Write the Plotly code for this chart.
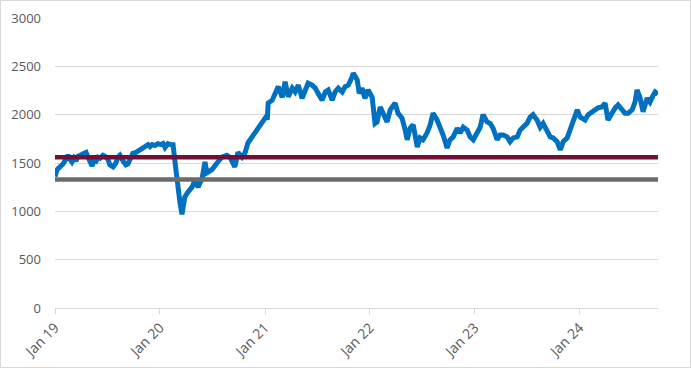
import plotly.graph_objects as go

dates = [
    "2019-01-01","2019-01-08","2019-01-18","2019-01-29","2019-02-08","2019-02-15","2019-02-22","2019-03-01",
    "2019-03-08","2019-03-15","2019-03-22","2019-03-29","2019-04-08","2019-04-19","2019-04-26","2019-05-03",
    "2019-05-10","2019-05-17","2019-05-24","2019-05-31","2019-06-07","2019-06-17","2019-06-24","2019-07-04",
    "2019-07-11","2019-07-22","2019-08-01","2019-08-08","2019-08-15","2019-08-26","2019-09-05","2019-09-12",
    "2019-09-22","2019-09-29","2019-10-10","2019-10-20","2019-10-31","2019-11-10","2019-11-21","2019-11-28",
    "2019-12-05","2019-12-15","2019-12-25",
    "2020-01-05","2020-01-12","2020-01-19","2020-01-29","2020-02-09","2020-02-16","2020-02-26","2020-03-04",
    "2020-03-11","2020-03-18","2020-03-28","2020-04-08","2020-04-22","2020-05-02","2020-05-13","2020-05-27",
    "2020-06-06","2020-06-13","2020-06-30","2020-07-18","2020-08-04","2020-08-21","2020-09-01","2020-09-18",
    "2020-09-29","2020-10-13","2020-10-23","2020-11-03","2020-11-17","2020-11-27","2020-12-15",
    "2021-01-04","2021-01-09","2021-01-12","2021-01-26","2021-02-05","2021-02-16","2021-03-02","2021-03-12",
    "2021-03-23","2021-04-06","2021-04-16","2021-04-27","2021-05-10","2021-05-21","2021-05-31","2021-06-14",
    "2021-06-25","2021-07-05","2021-07-19","2021-07-30","2021-08-09","2021-08-23","2021-09-02","2021-09-13",
    "2021-09-27","2021-10-07","2021-10-18","2021-10-31","2021-11-04","2021-11-18","2021-11-25","2021-12-05",
    "2021-12-15","2021-12-26",
    "2022-01-09","2022-01-19","2022-01-26","2022-02-06","2022-02-16","2022-03-02","2022-03-13","2022-03-30",
    "2022-04-09","2022-04-23","2022-05-04","2022-05-11","2022-05-21","2022-06-01","2022-06-15","2022-06-25",
    "2022-07-05","2022-07-19","2022-07-30","2022-08-09","2022-08-23","2022-09-03","2022-09-13","2022-09-27",
    "2022-10-07","2022-10-18","2022-11-01","2022-11-11","2022-11-22","2022-12-06","2022-12-16","2022-12-27",
    "2023-01-09","2023-01-20","2023-01-30","2023-02-13","2023-02-24","2023-03-06","2023-03-20","2023-03-30",
    "2023-04-10","2023-04-24","2023-05-04","2023-05-15","2023-05-29","2023-06-08","2023-06-18","2023-07-02",
    "2023-07-13","2023-07-23","2023-08-06","2023-08-17","2023-08-27","2023-09-10","2023-09-21","2023-10-01",
    "2023-10-15","2023-10-26","2023-11-05","2023-11-19","2023-11-29","2023-12-10","2023-12-24",
    "2024-01-03","2024-01-13","2024-01-20","2024-01-31","2024-02-13","2024-02-24","2024-03-05","2024-03-19",
    "2024-03-30","2024-04-09","2024-04-23","2024-05-04","2024-05-14","2024-05-28","2024-06-07","2024-06-18",
    "2024-07-02","2024-07-12","2024-07-19","2024-07-29","2024-08-09","2024-08-23","2024-09-02","2024-09-13",
    "2024-09-20","2024-09-30",
]

index_values = [
    1360,1430,1460,1490,1540,1580,1540,1510,
    1550,1520,1570,1580,1590,1610,1560,1500,
    1470,1530,1520,1560,1550,1580,1570,1540,
    1480,1460,1500,1560,1580,1520,1480,1490,
    1560,1600,1610,1630,1650,1660,1690,1670,
    1690,1680,1700,
    1690,1700,1660,1700,1690,1690,1430,1200,
    1090,970,1150,1200,1250,1320,1250,1340,
    1510,1400,1430,1500,1560,1580,1560,1460,
    1610,1560,1600,1710,1770,1820,1910,
    1975,1950,2120,2150,2235,2290,2180,2340,
    2185,2275,2235,2305,2170,2255,2325,2305,
    2275,2220,2150,2235,2255,2150,2235,2275,
    2235,2290,2305,2390,2430,2360,2220,2275,
    2170,2255,
    2180,1910,1925,2080,2015,1925,2050,2120,
    2015,1965,1840,1740,1860,1895,1665,1760,
    1740,1810,1895,2015,1945,1870,1790,1655,
    1740,1770,1860,1810,1870,1840,1770,1740,
    1820,1870,2000,1925,1910,1860,1740,1790,
    1790,1770,1720,1760,1770,1840,1870,1910,
    1975,2000,1945,1870,1910,1840,1770,1760,
    1720,1635,1720,1760,1840,1910,2050,
    1975,1950,1945,2000,2030,2050,2070,2080,
    2120,1945,2030,2070,2100,2050,2015,2015,
    2050,2130,2255,2180,2030,2170,2130,2200,
    2235,2210,
]

period = ["2019-01-01", "2024-09-30"]
upper_level = [1560, 1560]
lower_level = [1330, 1330]
y_ticks = [0, 500, 1000, 1500, 2000, 2500, 3000]

fig = go.Figure()
fig.add_trace(go.Scatter(x=dates, y=index_values, mode="lines",
                         line=dict(color="#0070C0", width=5), showlegend=False))
fig.add_trace(go.Scatter(x=period, y=upper_level, mode="lines",
                         line=dict(color="#720F37", width=4.5), showlegend=False))
fig.add_trace(go.Scatter(x=period, y=lower_level, mode="lines",
                         line=dict(color="#6B6B6B", width=4.5), showlegend=False))

fig.update_layout(
    width=691, height=368,
    margin=dict(l=55, r=33, t=18, b=60, autoexpand=False),
    paper_bgcolor="white", plot_bgcolor="white",
    font=dict(family="Open Sans, sans-serif", size=13, color="#595959"),
    shapes=[dict(type="rect", xref="paper", yref="paper",
                 x0=-0.0904, x1=1.0539, y0=-0.2052, y1=1.0603,
                 line=dict(color="#D9D9D9", width=1), fillcolor="rgba(0,0,0,0)",
                 layer="below")],
)
fig.update_xaxes(
    range=period, type="date", automargin=False,
    tick0="2019-01-01", dtick="M12", tickformat="%b %y", tickangle=-45,
    showgrid=False, showline=True, linecolor="#D9D9D9", linewidth=1,
    ticks="outside", ticklen=5, tickcolor="#D9D9D9",
    tickfont=dict(size=14, color="#595959"),
)
fig.update_yaxes(
    range=[0, 3000], tickvals=y_ticks, automargin=False,
    showgrid=True, gridcolor="#D9D9D9", gridwidth=1,
    zeroline=False, showline=False, ticks="", ticklabelstandoff=13,
    tickfont=dict(size=13, color="#595959"),
)

fig.write_html("out.html", config={"displayModeBar": False},
               post_script="document.body.style.margin='0';document.body.style.overflow='hidden';")
